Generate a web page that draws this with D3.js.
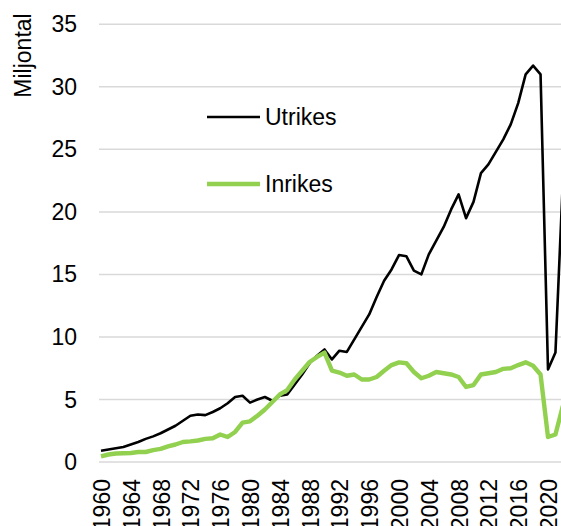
<!DOCTYPE html>
<html>
<head>
<meta charset="utf-8">
<script src="https://cdn.jsdelivr.net/npm/d3@7"></script>
<style>
    html, body { margin: 0; padding: 0; background: #fff; overflow: hidden; }
    svg { display: block; font-family: "Liberation Sans", Arial, sans-serif; }
</style>
</head>
<body>
<div id="chart"></div>
<script>
    // 数据
    const years = d3.range(1960, 2023);
    const utrikes = [
        0.9, 1.0, 1.1, 1.2, 1.4, 1.6, 1.85, 2.05, 2.3, 2.6,
        2.9, 3.3, 3.7, 3.8, 3.75, 4.0, 4.3, 4.7, 5.2, 5.3,
        4.75, 5.0, 5.2, 4.9, 5.3, 5.4, 6.2, 7.0, 7.9, 8.5,
        9.0, 8.2, 8.9, 8.8, 9.8, 10.8, 11.8, 13.2, 14.5, 15.4,
        16.55, 16.45, 15.3, 15.0, 16.6, 17.7, 18.8, 20.2, 21.4, 19.5,
        20.8, 23.1, 23.8, 24.8, 25.8, 27.0, 28.7, 31.0, 31.7, 31.0,
        7.4, 8.75, 22.6
    ];
    const inrikes = [
        0.45, 0.6, 0.68, 0.7, 0.72, 0.8, 0.8, 0.95, 1.05, 1.25,
        1.4, 1.6, 1.65, 1.72, 1.85, 1.9, 2.2, 2.0, 2.4, 3.15,
        3.25, 3.7, 4.2, 4.8, 5.4, 5.75, 6.6, 7.3, 8.0, 8.4,
        8.75, 7.3, 7.15, 6.9, 7.0, 6.6, 6.6, 6.8, 7.3, 7.75,
        7.97, 7.9, 7.2, 6.7, 6.9, 7.2, 7.1, 7.0, 6.8, 6.0,
        6.15, 7.0, 7.1, 7.2, 7.45, 7.5, 7.75, 7.97, 7.7, 7.0,
        2.0, 2.2, 4.5
    ];
    const yTicks = [0, 5, 10, 15, 20, 25, 30, 35];
    const xTickYears = d3.range(1960, 2021, 4);

    const series = [
        { name: 'Utrikes', values: utrikes, color: '#000000', width: 2.6 },
        { name: 'Inrikes', values: inrikes, color: '#92D050', width: 4.4 }
    ];

    const width = 561, height = 526;
    const plotLeft = 99;

    const svg = d3.select('#chart')
        .append('svg')
        .attr('width', width)
        .attr('height', height);

    // 比例尺
    const x = d3.scaleLinear().domain([1960, 2022]).range([101, 101 + 62 * 7.45]);
    const y = d3.scaleLinear().domain([0, 35]).range([462, 24.3]);

    // 网格线
    svg.append('g')
        .selectAll('line')
        .data(yTicks)
        .enter().append('line')
        .attr('x1', plotLeft)
        .attr('x2', width)
        .attr('y1', d => y(d))
        .attr('y2', d => y(d))
        .attr('stroke', '#d9d9d9')
        .attr('stroke-width', 1.5);

    // Y 轴标签
    svg.append('g')
        .selectAll('text')
        .data(yTicks)
        .enter().append('text')
        .attr('x', 77)
        .attr('y', d => y(d))
        .attr('dy', '0.35em')
        .attr('text-anchor', 'end')
        .attr('font-size', 23)
        .attr('fill', '#000')
        .text(d => d);

    // Y 轴标题
    svg.append('text')
        .attr('transform', 'translate(31,55.5) rotate(-90)')
        .attr('text-anchor', 'middle')
        .attr('font-size', 23)
        .attr('fill', '#000')
        .text('Miljontal');

    // X 轴标签
    svg.append('g')
        .selectAll('text')
        .data(xTickYears)
        .enter().append('text')
        .attr('transform', d => `translate(${x(d) + 1},479) rotate(-90)`)
        .attr('dy', '0.35em')
        .attr('text-anchor', 'end')
        .attr('font-size', 23)
        .attr('fill', '#000')
        .text(d => d);

    // 折线
    series.forEach(s => {
        const line = d3.line()
            .x((d, i) => x(years[i]))
            .y(d => y(d));
        svg.append('path')
            .datum(s.values)
            .attr('d', line)
            .attr('fill', 'none')
            .attr('stroke', s.color)
            .attr('stroke-width', s.width)
            .attr('stroke-linejoin', 'round');
    });

    // 图例
    const legendY = [117, 184];
    series.forEach((s, i) => {
        svg.append('line')
            .attr('x1', 207)
            .attr('x2', 260)
            .attr('y1', legendY[i])
            .attr('y2', legendY[i])
            .attr('stroke', s.color)
            .attr('stroke-width', s.width);
        svg.append('text')
            .attr('x', 265)
            .attr('y', legendY[i])
            .attr('dy', '0.35em')
            .attr('font-size', 23)
            .attr('fill', '#000')
            .text(s.name);
    });
</script>
</body>
</html>
